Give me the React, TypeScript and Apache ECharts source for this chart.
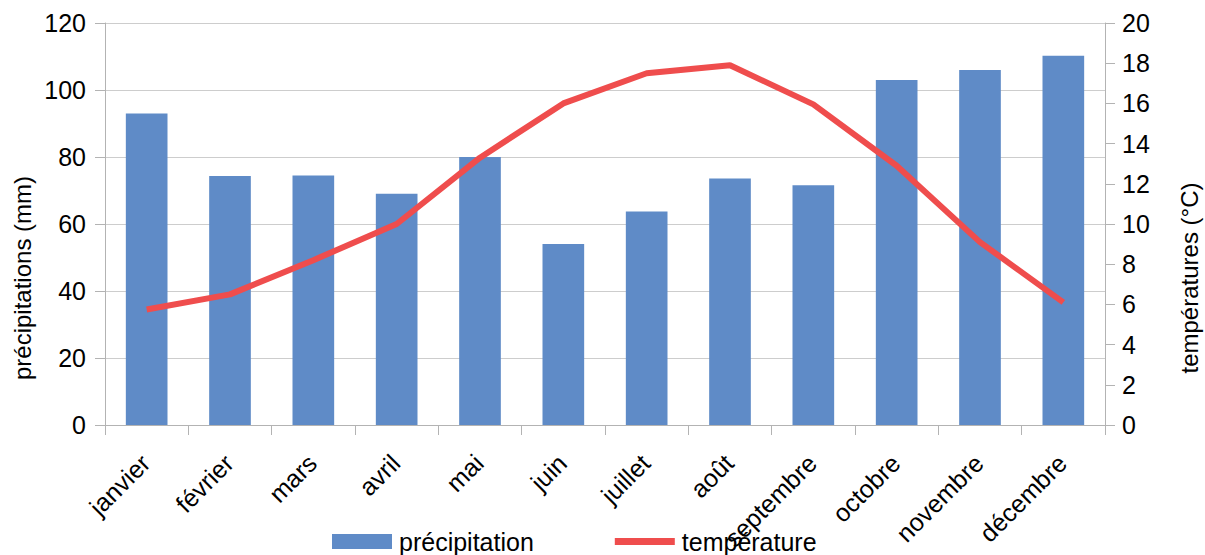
import React, { useEffect, useRef } from "react";
import * as echarts from "echarts";

const months = [
  "janvier", "février", "mars", "avril", "mai", "juin",
  "juillet", "août", "septembre", "octobre", "novembre", "décembre",
];
const precipitation = [93, 74.3, 74.5, 69, 80, 54, 63.7, 73.6, 71.6, 103, 106, 110.2];
const temperature = [5.75, 6.5, 8.2, 10, 13.3, 16, 17.5, 17.9, 15.95, 12.9, 9.1, 6.1];

const leftTicks = { min: 0, max: 120, interval: 20 };
const rightTicks = { min: 0, max: 20, interval: 2 };

const FONT = "Liberation Sans";
const BAR_COLOR = "#5f8bc7";
const LINE_COLOR = "#ef4d4d";
const AXIS_COLOR = "#b3b3b3";
const GRID_COLOR = "#cdcdcd";

export default function App() {
  const ref = useRef<HTMLDivElement>(null);

  useEffect(() => {
    if (!ref.current) return;
    const chart = echarts.init(ref.current, null, { renderer: "svg" });
    chart.setOption({
      animation: false,
      textStyle: { fontFamily: FONT },
      grid: { left: 105, right: 100, top: 23, bottom: 130, containLabel: false },
      legend: {
        left: 327,
        top: 524,
        padding: 5,
        itemWidth: 60,
        itemHeight: 15,
        itemGap: 81,
        symbolKeepAspect: true,
        textStyle: { fontSize: 25, color: "#000", fontFamily: FONT, padding: [0, 0, 0, 2] },
        data: [
          { name: "précipitation", icon: "rect" },
          { name: "température", icon: "path://M0,0H60V7H0Z" },
        ],
      },
      xAxis: {
        type: "category",
        data: months,
        axisLine: { lineStyle: { color: AXIS_COLOR, width: 1 } },
        axisTick: { show: true, length: 10, inside: false, lineStyle: { color: AXIS_COLOR } },
        axisLabel: {
          rotate: 45,
          interval: 0,
          margin: 15,
          align: "right",
          verticalAlign: "top",
          padding: [0, 14, 0, 0],
          fontSize: 25,
          color: "#000",
          fontFamily: FONT,
        },
        splitLine: { show: false },
      },
      yAxis: [
        {
          type: "value",
          min: leftTicks.min,
          max: leftTicks.max,
          interval: leftTicks.interval,
          position: "left",
          axisLine: { show: true, lineStyle: { color: AXIS_COLOR } },
          axisTick: { show: true, length: 10, lineStyle: { color: AXIS_COLOR } },
          axisLabel: { fontSize: 25, color: "#000", margin: 19, fontFamily: FONT },
          splitLine: { show: true, lineStyle: { color: GRID_COLOR, width: 1 } },
        },
        {
          type: "value",
          min: rightTicks.min,
          max: rightTicks.max,
          interval: rightTicks.interval,
          position: "right",
          axisLine: { show: true, lineStyle: { color: AXIS_COLOR } },
          axisTick: { show: true, length: 10, lineStyle: { color: AXIS_COLOR } },
          axisLabel: { fontSize: 25, color: "#000", margin: 17, fontFamily: FONT },
          splitLine: { show: false },
        },
      ],
      graphic: [
        {
          type: "text",
          x: 22,
          y: 278,
          rotation: Math.PI / 2,
          style: {
            text: "précipitations (mm)",
            fontSize: 24,
            fontFamily: FONT,
            fill: "#000",
            textAlign: "center",
            textVerticalAlign: "middle",
          },
        },
        {
          type: "text",
          x: 1189,
          y: 278,
          rotation: Math.PI / 2,
          style: {
            text: "températures (°C)",
            fontSize: 24,
            fontFamily: FONT,
            fill: "#000",
            textAlign: "center",
            textVerticalAlign: "middle",
          },
        },
      ],
      series: [
        {
          name: "précipitation",
          type: "bar",
          data: precipitation,
          yAxisIndex: 0,
          barCategoryGap: "50%",
          itemStyle: { color: BAR_COLOR },
        },
        {
          name: "température",
          type: "line",
          data: temperature,
          yAxisIndex: 1,
          symbol: "none",
          showSymbol: false,
          lineStyle: { color: LINE_COLOR, width: 6 },
          itemStyle: { color: LINE_COLOR },
          z: 3,
        },
      ],
    });
    return () => chart.dispose();
  }, []);

  return (
    <div
      ref={ref}
      style={{ position: "fixed", left: 0, top: 0, width: 1205, height: 555, background: "#fff" }}
    />
  );
}
